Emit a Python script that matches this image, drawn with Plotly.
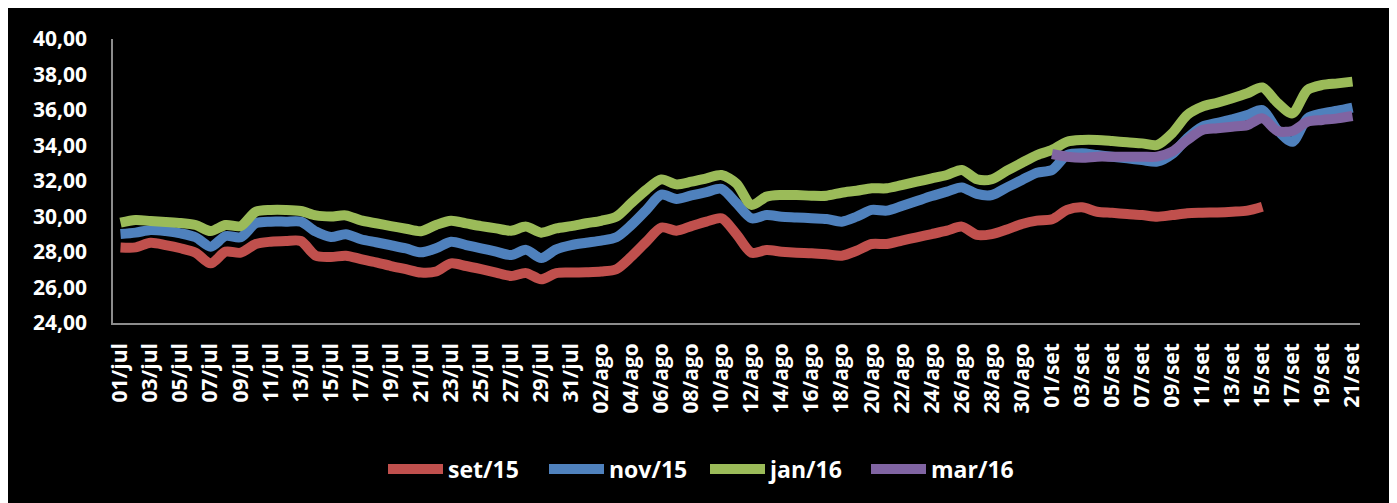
import plotly.graph_objects as go

# ---- data ----
months = [("jul", 31), ("ago", 31), ("set", 21)]
categories = [f"{d:02d}/{m}" for m, n in months for d in range(1, n + 1)]
tick_labels = categories[::2]

set15 = [28.26, 28.26, 28.52, 28.39, 28.21, 27.96, 27.36, 28.02, 27.96, 28.45,
         28.58, 28.62, 28.62, 27.79, 27.72, 27.79, 27.60, 27.42, 27.21, 27.03,
         26.84, 26.90, 27.36, 27.21, 27.03, 26.84, 26.65, 26.81, 26.46, 26.81,
         26.84, 26.86, 26.90, 27.03, 27.74, 28.58, 29.38, 29.20, 29.46, 29.71,
         29.90, 29.00, 27.96, 28.11, 28.02, 27.96, 27.93, 27.87, 27.79, 28.07,
         28.45, 28.45, 28.64, 28.83, 29.01, 29.20, 29.43, 28.96, 29.01, 29.27,
         29.58, 29.77, 29.84, 30.37, 30.52, 30.27, 30.21, 30.14, 30.08, 29.99,
         30.08, 30.18, 30.21, 30.23, 30.27, 30.33, 30.55]

nov15 = [29.01, 29.09, 29.24, 29.18, 29.05, 28.83, 28.30, 28.90, 28.83, 29.62,
         29.71, 29.71, 29.71, 29.15, 28.85, 29.00, 28.72, 28.55, 28.38, 28.20,
         27.98, 28.21, 28.58, 28.39, 28.21, 28.02, 27.83, 28.12, 27.66, 28.15,
         28.39, 28.52, 28.64, 28.83, 29.52, 30.37, 31.23, 30.99, 31.19, 31.37,
         31.56, 30.75, 29.90, 30.08, 29.99, 29.95, 29.90, 29.86, 29.71, 29.99,
         30.37, 30.33, 30.59, 30.87, 31.15, 31.40, 31.64, 31.27, 31.21, 31.64,
         32.06, 32.47, 32.62, 33.46, 33.56, 33.46, 33.37, 33.28, 33.18, 33.09,
         33.52, 34.41, 35.06, 35.28, 35.48, 35.72, 36.00, 34.87, 34.21, 35.53,
         35.81, 35.96, 36.13]

jan16 = [29.65, 29.80, 29.75, 29.69, 29.63, 29.52, 29.18, 29.52, 29.46, 30.27,
         30.37, 30.37, 30.31, 30.06, 30.00, 30.06, 29.78, 29.62, 29.46, 29.31,
         29.17, 29.52, 29.76, 29.61, 29.46, 29.33, 29.20, 29.43, 29.09, 29.33,
         29.46, 29.62, 29.76, 29.99, 30.76, 31.51, 32.09, 31.81, 31.96, 32.15,
         32.34, 31.85, 30.65, 31.12, 31.21, 31.21, 31.17, 31.17, 31.34, 31.45,
         31.59, 31.59, 31.77, 31.96, 32.15, 32.34, 32.62, 32.10, 32.10, 32.58,
         33.03, 33.46, 33.75, 34.21, 34.31, 34.31, 34.25, 34.18, 34.12, 34.03,
         34.69, 35.72, 36.19, 36.41, 36.66, 36.94, 37.27, 36.41, 35.81, 37.13,
         37.41, 37.50, 37.60]

mar16 = [33.52, 33.37, 33.31, 33.37, 33.37, 33.37, 33.37, 33.37, 33.65, 34.31,
         34.87, 34.97, 35.06, 35.15, 35.53, 34.82, 34.82, 35.34, 35.44, 35.53,
         35.66]

series = [
    ("set/15", categories[:len(set15)], set15, "#C0504D"),
    ("nov/15", categories[:len(nov15)], nov15, "#4F81BD"),
    ("jan/16", categories[:len(jan16)], jan16, "#9BBB59"),
    ("mar/16", categories[len(categories) - len(mar16):], mar16, "#8064A2"),
]

y_ticks = [24, 26, 28, 30, 32, 34, 36, 38, 40]

# ---- figure (page body has an 8px margin, so the figure is 8px smaller) ----
W, H = 1389, 495
L, R, T, B = 105, 37, 31, 180
pw, ph = W - L - R, H - T - B

fig = go.Figure()
for name, xs, ys, col in series:
    fig.add_trace(go.Scatter(
        x=xs, y=ys, name=name, mode="lines",
        line=dict(color=col, width=10, shape="spline", smoothing=0.8),
    ))

font_family = "Open Sans, DejaVu Sans, sans-serif"

fig.update_layout(
    width=W, height=H,
    margin=dict(l=L, r=R, t=T, b=B, autoexpand=False),
    paper_bgcolor="black", plot_bgcolor="black",
    separators=",.",
    font=dict(family=font_family, color="white", size=21, weight="bold"),
    showlegend=True,
    legend=dict(
        orientation="h", x=(697 - L) / pw, xanchor="center",
        y=(H - B - 461) / ph, yanchor="middle",
        font=dict(size=23, color="white", family=font_family, weight="bold"),
        bgcolor="rgba(0,0,0,0)", itemwidth=55, entrywidth=91,
        tracegroupgap=0,
    ),
    xaxis=dict(
        type="category", categoryorder="array", categoryarray=categories,
        range=[-0.5, len(categories) - 0.5],
        tickmode="array", tickvals=tick_labels, ticktext=tick_labels,
        tickangle=-90, showgrid=False, zeroline=False,
        showline=True, linecolor="#8c8c8c", linewidth=1.5,
        ticks="", ticklabelstandoff=10,
        tickfont=dict(size=21, color="white", family=font_family, weight="bold"),
    ),
    yaxis=dict(
        range=[24, 40], tickmode="array", tickvals=y_ticks, tickformat=".2f",
        showgrid=False, zeroline=False,
        showline=True, linecolor="#8c8c8c", linewidth=1.5,
        ticks="", ticklabelstandoff=20,
        tickfont=dict(size=21, color="white", family=font_family, weight="bold"),
    ),
)

# white strip at the right edge of the page
def px2x(px):
    return (px - L) / pw

def px2y(py):
    return (H - B - py) / ph

fig.add_shape(type="rect", xref="paper", yref="paper",
              x0=px2x(1382), x1=px2x(W + 2), y0=px2y(H + 2), y1=px2y(-2),
              fillcolor="white", line=dict(width=0), layer="above")

fig.write_html("out.html")
